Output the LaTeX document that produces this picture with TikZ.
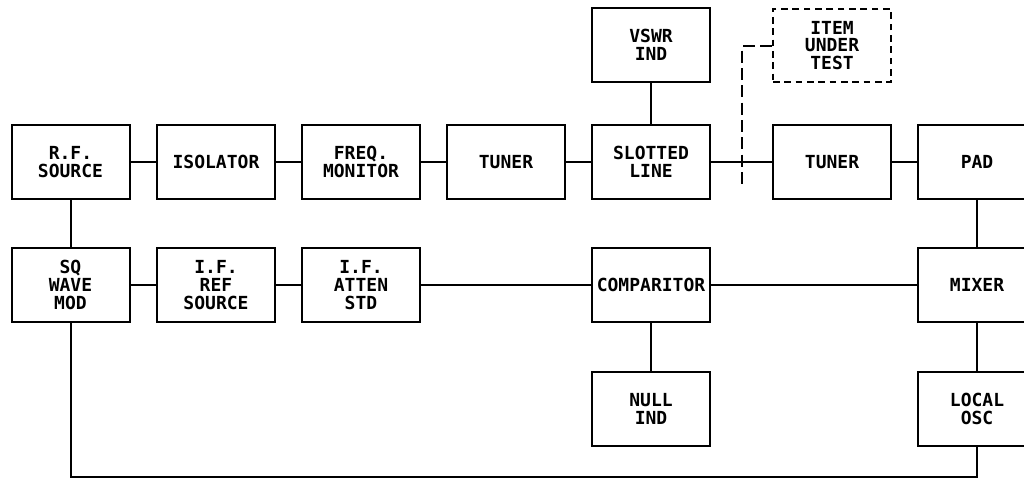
\documentclass[tikz,border=0pt]{standalone}
\usepackage{fontspec}
\newfontfamily\plotfont{DejaVu Sans Mono}
\begin{document}
\begin{tikzpicture}[x=0.75pt,y=-0.75pt,
  blk/.style={draw,line width=1.5pt,minimum width=88.5pt,minimum height=55pt,
    inner sep=0pt,align=center,font=\plotfont\bfseries\fontsize{13.5}{13.4}\selectfont},
  dblk/.style={blk,dashed,dash pattern=on 5pt off 3.5pt},
  wire/.style={line width=1.5pt},
  dwire/.style={line width=1.5pt,dash pattern=on 9pt off 4pt}]
\useasboundingbox (0,0) rectangle (1024,479);
\clip (0,0) rectangle (1024,479);
% row 0
\node[blk]  (vswr) at (651,45) {VSWR\\IND};
\node[dblk] (item) at (832,45.5) {ITEM\\UNDER\\TEST};
% row 1
\node[blk] (rf)   at (70.5,162) {R.F.\\SOURCE};
\node[blk] (iso)  at (216,162) {ISOLATOR};
\node[blk] (freq) at (361,162) {FREQ.\\MONITOR};
\node[blk] (tun1) at (506,162) {TUNER};
\node[blk] (slot) at (651,162) {SLOTTED\\LINE};
\node[blk] (tun2) at (832,162) {TUNER};
\node[blk] (pad)  at (977,162) {PAD};
% row 2
\node[blk] (sq)    at (70.5,285) {SQ\\WAVE\\MOD};
\node[blk] (ifref) at (216,285) {I.F.\\REF\\SOURCE};
\node[blk] (ifatt) at (361,285) {I.F.\\ATTEN\\STD};
\node[blk] (comp)  at (651,285) {COMPARITOR};
\node[blk] (mix)   at (977,285) {MIXER};
% row 3
\node[blk] (null) at (651,409) {NULL\\IND};
\node[blk] (losc) at (977,409) {LOCAL\\OSC};
% connectors row 1
\draw[wire] (rf) -- (iso);
\draw[wire] (iso) -- (freq);
\draw[wire] (freq) -- (tun1);
\draw[wire] (tun1) -- (slot);
\draw[wire] (slot) -- (tun2);
\draw[wire] (tun2) -- (pad);
% connectors row 2
\draw[wire] (sq) -- (ifref);
\draw[wire] (ifref) -- (ifatt);
\draw[wire] (ifatt) -- (comp);
\draw[wire] (comp) -- (mix);
% verticals
\draw[wire] (rf) -- (sq);
\draw[wire] (vswr) -- (slot);
\draw[wire] (comp) -- (null);
\draw[wire] (pad) -- (mix);
\draw[wire] (mix) -- (losc);
% bottom loop
\coordinate (bl) at (70.5,477);
\coordinate (br) at (977,477);
\draw[wire] (sq.south) -- (bl) -- (br) -- (losc.south);
% dashed item connection
\coordinate (dk) at (742,46);
\coordinate (dend) at (742,185);
\draw[dwire] (item.west |- dk) -- (dk) -- (dend);
\end{tikzpicture}
\end{document}
